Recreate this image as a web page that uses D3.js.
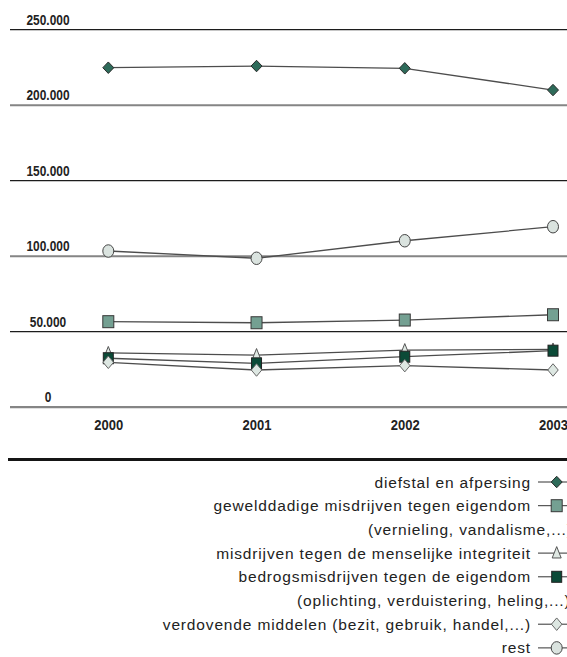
<!DOCTYPE html>
<html><head><meta charset="utf-8">
<script src="https://cdn.jsdelivr.net/npm/d3@7/dist/d3.min.js"></script>
<style>
html,body{margin:0;padding:0;background:#fff;overflow:hidden;}
svg{display:block;}
</style></head>
<body>
<script>
const years = ["2000","2001","2002","2003"];
const yTicks = [0,50000,100000,150000,200000,250000];
const diefstal   = [224500,225600,224100,209700];
const geweld     = [56300,55600,57400,60900];
const integriteit= [35600,34200,37500,37900];
const bedrog     = [32100,28700,33100,37100];
const verdovend  = [29400,24300,27200,24300];
const rest       = [103100,98300,109900,119200];
const legendLines = [
  "diefstal en afpersing",
  "gewelddadige misdrijven tegen eigendom",
  "(vernieling, vandalisme,...)",
  "misdrijven tegen de menselijke integriteit",
  "bedrogsmisdrijven tegen de eigendom ",
  "(oplichting, verduistering, heling,...)",
  "verdovende middelen (bezit, gebruik, handel,...)",
  "rest"
];

const W=567,H=657;
const svg=d3.select("body").append("svg").attr("width",W).attr("height",H);
const x=d3.scalePoint().domain(years).range([108.3,553]);
const y=d3.scaleLinear().domain([0,250000]).range([406.7,29.2]);
const nl=d3.formatLocale({decimal:",",thousands:".",grouping:[3],currency:["€",""]});
const fmt=nl.format(",d");
const axisFont="'Liberation Sans Narrow','Arial Narrow','Liberation Sans',Arial,sans-serif";

function condense(sel,f){
  sel.each(function(){
    const n=this.getComputedTextLength();
    d3.select(this).attr("textLength",n*f).attr("lengthAdjust","spacingAndGlyphs");
  });
}

// Y axis with gridlines
const yAxis=d3.axisLeft(y).tickValues(yTicks).tickSize(-(W-10)).tickFormat(fmt);
const gy=svg.append("g").attr("transform","translate(10,0)").call(yAxis);
gy.select(".domain").remove();
gy.selectAll(".tick line")
  .attr("stroke",(d,i)=> (i%2===0)?"#858585":"#1c1c1c")
  .attr("stroke-width",(d,i)=> d===0?2.2:((i%2===0)?2:1.3));
gy.selectAll(".tick text")
  .attr("x",38).attr("dy",-5).attr("text-anchor","middle")
  .attr("font-family",axisFont).attr("font-weight","bold")
  .attr("font-size",14).attr("fill","#222").call(condense,0.85);

// X axis
const xAxis=d3.axisBottom(x).tickSize(0);
const gx=svg.append("g").attr("transform","translate(0,406.7)").call(xAxis);
gx.select(".domain").remove();
gx.selectAll(".tick text").attr("y",23.3).attr("dy",0)
  .attr("font-family",axisFont).attr("font-weight","bold")
  .attr("font-size",14).attr("fill","#222").call(condense,0.93);

// separator
svg.append("line").attr("x1",8).attr("x2",W).attr("y1",459.5).attr("y2",459.5)
  .attr("stroke","#151515").attr("stroke-width",3.2);

const series=[
  {v:diefstal,  shape:"diamond", fill:"#2e6b5a", stroke:"#2b2b2b", w:11, h:11.5},
  {v:geweld,    shape:"square",  fill:"#74a092", stroke:"#383838", w:11, h:12},
  {v:integriteit,shape:"triangle",fill:"#dfe8e3", stroke:"#555",   w:9,h:13},
  {v:bedrog,    shape:"square",  fill:"#0b4a37", stroke:"#222",    w:10, h:11},
  {v:verdovend, shape:"diamond", fill:"#dde7e2", stroke:"#666",    w:10.5, h:12.5},
  {v:rest,      shape:"circle",  fill:"#dae3df", stroke:"#454545", w:11, h:12.5}
];
function marker(sel,s){
  const hw=s.w/2,hh=s.h/2;
  let el;
  if(s.shape==="circle"){
    el=sel.append("ellipse").attr("rx",hw).attr("ry",hh);
  } else if(s.shape==="square"){
    el=sel.append("rect").attr("x",-hw).attr("y",-hh).attr("width",s.w).attr("height",s.h);
  } else if(s.shape==="diamond"){
    el=sel.append("path").attr("d",`M0,${-hh}L${hw},0L0,${hh}L${-hw},0Z`);
  } else {
    el=sel.append("path").attr("d",`M0,${-hh}L${hw},${hh*0.75}L${-hw},${hh*0.75}Z`);
  }
  el.attr("fill",s.fill).attr("stroke",s.stroke).attr("stroke-width",1);
}
const line=d3.line().x((d,i)=>x(years[i])).y(d=>y(d));
const plot=svg.append("g");
series.forEach(s=>{
  plot.append("path").attr("d",line(s.v)).attr("fill","none")
    .attr("stroke","#4d4d4d").attr("stroke-width",1.3);
});
series.forEach(s=>{
  plot.selectAll(null).data(s.v).enter().append("g")
    .attr("transform",(d,i)=>`translate(${x(years[i])},${y(d)})`)
    .each(function(){marker(d3.select(this),s);});
});

// legend
const legFont="'Liberation Sans',Arial,sans-serif";
const rowMap=[0,1,null,2,3,null,4,5];
const lg=svg.append("g");
legendLines.forEach((t,i)=>{
  const base=487.5+i*23.7;
  const txt=lg.append("text").attr("y",base).text(t)
    .attr("font-family",legFont).attr("font-size",15.5)
    .attr("letter-spacing",0.85).attr("fill","#222");
  if(rowMap[i]===null){
    txt.attr("x",i===2?368:297).attr("text-anchor","start");
  } else {
    txt.attr("x",531).attr("text-anchor","end");
    const s=series[rowMap[i]];
    const cy=base-5.5;
    lg.append("line").attr("x1",538).attr("x2",W).attr("y1",cy).attr("y2",cy)
      .attr("stroke","#333").attr("stroke-width",1);
    const g=lg.append("g").attr("transform",`translate(556.7,${cy})`);
    marker(g,s);
  }
});
</script>
</body></html>
